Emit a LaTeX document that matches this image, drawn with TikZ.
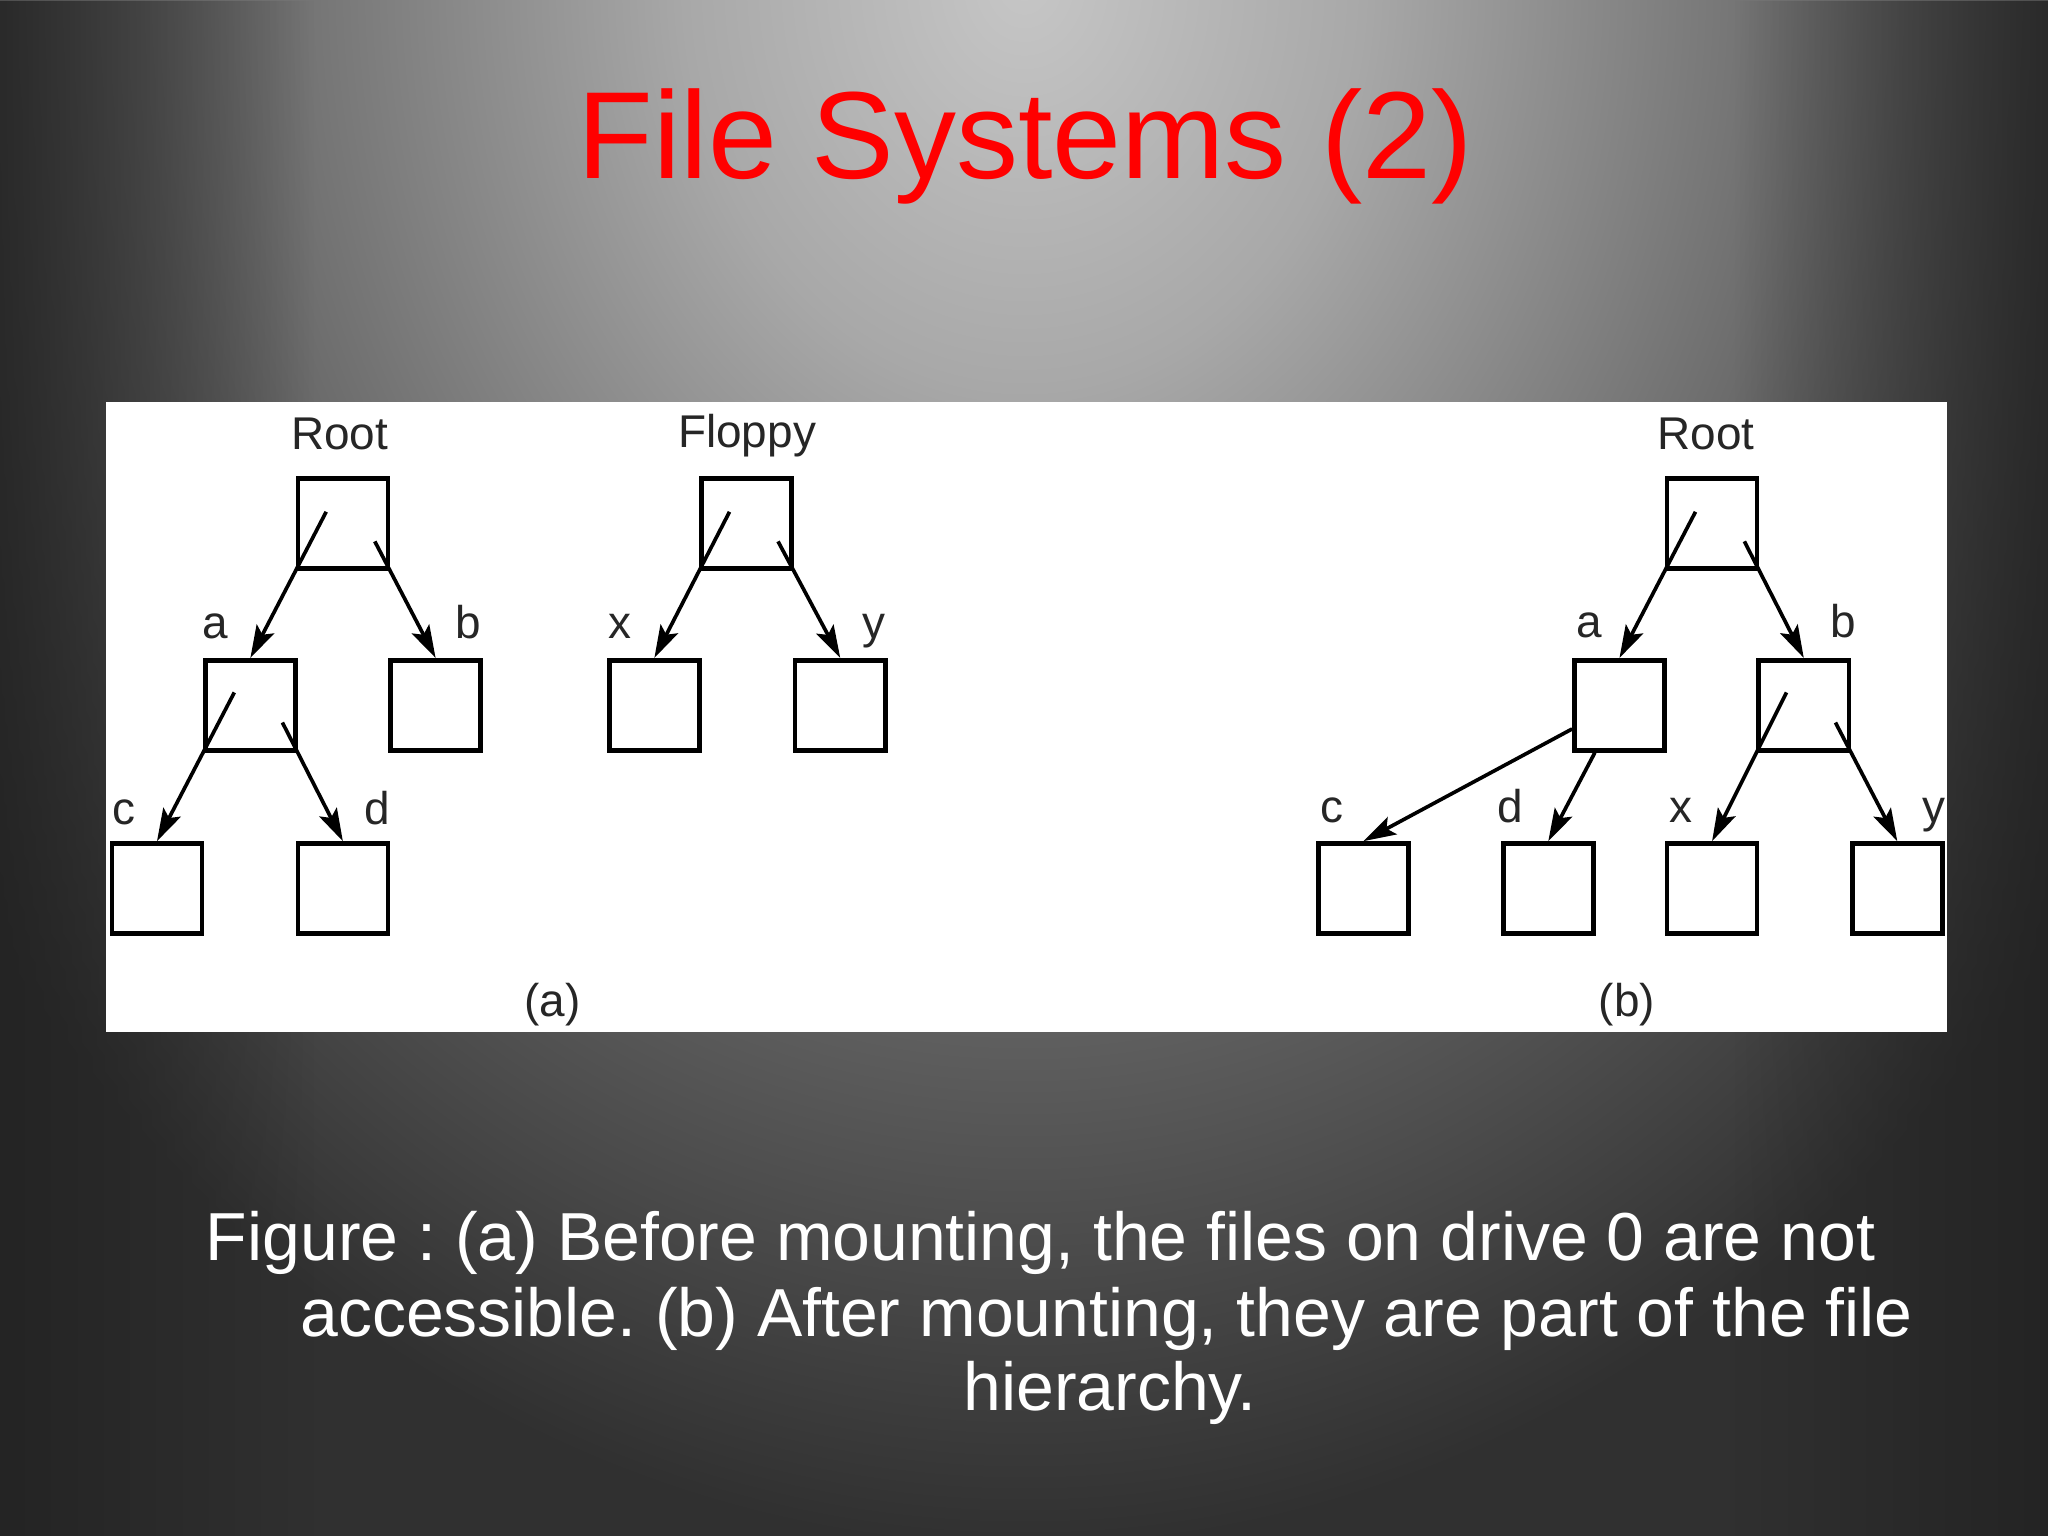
\documentclass[tikz,border=0pt]{standalone}
\usepackage{fontspec}
\setmainfont{Liberation Sans}
\usetikzlibrary{arrows.meta,calc,fadings}
\frenchspacing

\definecolor{bgA}{gray}{0.776}
\definecolor{bgB}{gray}{0.659}
\definecolor{bgC}{gray}{0.369}
\definecolor{bgD}{gray}{0.227}
\definecolor{bgF}{gray}{0.188}
\definecolor{bgV}{gray}{0.13}
\pgfdeclareradialshading{slidebg}{\pgfpoint{0bp}{0bp}}{%
  color(0bp)=(bgA); color(6.5bp)=(bgB); color(16.9bp)=(bgC);
  color(23.25bp)=(bgD); color(25bp)=(bgF); color(50bp)=(bgF)}

\begin{document}
\begin{tikzpicture}[
    dirbox/.style={rectangle, draw, line width=1pt, minimum size=0.69cm, inner sep=0pt},
    arrow/.style={-{Stealth[length=2.5mm, width=1.5mm, inset=0.5mm]}, line width=0.8pt},
    lbl/.style={font=\fontsize{10}{12}\selectfont, text=black!85, anchor=base, inner sep=0pt},
    caption/.style={font=\fontsize{14.8}{16}\selectfont, text=white, anchor=base west, inner sep=0pt}
]

% Slide background
\useasboundingbox (0,0) rectangle (15.68,11.76);
\fill[bgF] (0,0) rectangle (15.68,11.76);
\begin{scope}
  \clip (0,0) rectangle (15.68,11.76);
  \shade[shading=slidebg] (7.84,11.9) ellipse (10 and 12);
\end{scope}
\fill[bgV, path fading=east, fill opacity=0.8] (0,0) rectangle (2.4,11.76);
\fill[bgV, path fading=west, fill opacity=0.8] (13.28,0) rectangle (15.68,11.76);

% Title
\node[font=\fontsize{27}{32}\selectfont, text=red, anchor=base] (title) at (7.85,10.39) {File Systems (2)};

% Figure panel
\fill[white] (0.81,3.86) rectangle (14.91,8.68);

% (a) Root tree
\node[dirbox] (root1) at (2.625,7.751) {};
\node[dirbox] (a1) at (1.917,6.36) {};
\node[dirbox] (b1) at (3.335,6.36) {};
\node[dirbox] (c1) at (1.202,4.957) {};
\node[dirbox] (d1) at (2.625,4.957) {};

% (a) Floppy tree
\node[dirbox] (floppy) at (5.715,7.751) {};
\node[dirbox] (x1) at (5.01,6.36) {};
\node[dirbox] (y1) at (6.433,6.36) {};

% (b) Mounted tree
\node[dirbox] (root2) at (13.108,7.751) {};
\node[dirbox] (a2) at (12.399,6.36) {};
\node[dirbox] (b2) at (13.81,6.36) {};
\node[dirbox] (c2) at (10.439,4.957) {};
\node[dirbox] (d2) at (11.854,4.957) {};
\node[dirbox] (x2) at (13.108,4.957) {};
\node[dirbox] (y2) at (14.526,4.957) {};

% Labels
\node[lbl] (lroot1) at (2.60,8.316) {Root};
\node[lbl] (lfloppy) at (5.72,8.337) {Floppy};
\node[lbl] (la1) at (1.65,6.87) {a};
\node[lbl] (lb1) at (3.585,6.87) {b};
\node[lbl] (lc1) at (0.952,5.45) {c};
\node[lbl] (ld1) at (2.888,5.45) {d};
\node[lbl] (lx1) at (4.75,6.87) {x};
\node[lbl] (ly1) at (6.688,6.87) {y};
\node[lbl] (lpa) at (4.23,3.98) {(a)};

\node[lbl] (lroot2) at (13.06,8.32) {Root};
\node[lbl] (la2) at (12.17,6.88) {a};
\node[lbl] (lb2) at (14.11,6.88) {b};
\node[lbl] (lc2) at (10.20,5.46) {c};
\node[lbl] (ld2) at (11.565,5.46) {d};
\node[lbl] (lx2) at (12.87,5.46) {x};
\node[lbl] (ly2) at (14.81,5.46) {y};
\node[lbl] (lpb) at (12.456,3.98) {(b)};

% Arrows (a)
\draw[arrow] ($(root1.south west)!-0.68!(a1.north)$) -- (a1.north);
\draw[arrow] ($(root1.south east)!-0.34!(b1.north)$) -- (b1.north);
\draw[arrow] ($(a1.south west)!-0.68!(c1.north)$) -- (c1.north);
\draw[arrow] ($(a1.south east)!-0.34!(d1.north)$) -- (d1.north);
\draw[arrow] ($(floppy.south west)!-0.68!(x1.north)$) -- (x1.north);
\draw[arrow] ($(floppy.south east)!-0.34!(y1.north)$) -- (y1.north);

% Arrows (b)
\draw[arrow] ($(root2.south west)!-0.68!(a2.north)$) -- (a2.north);
\draw[arrow] ($(root2.south east)!-0.34!(b2.north)$) -- (b2.north);
\draw[arrow] ($(a2.south west)!0.25!(a2.north west)$) -- (c2.north);
\draw[arrow] ($(a2.south west)!0.24!(a2.south east)$) -- (d2.north);
\draw[arrow] ($(b2.south west)!-0.68!(x2.north)$) -- (x2.north);
\draw[arrow] ($(b2.south east)!-0.34!(y2.north)$) -- (y2.north);

% Caption
\node[caption] (cap1) at (1.57,2.11) {Figure : (a) Before mounting, the files on drive 0 are not};
\node[caption] (cap2) at (2.292,1.53) {accessible. (b) After mounting, they are part of the file};
\node[caption, anchor=base] (cap3) at (8.50,0.96) {hierarchy.};

\end{tikzpicture}
\end{document}
